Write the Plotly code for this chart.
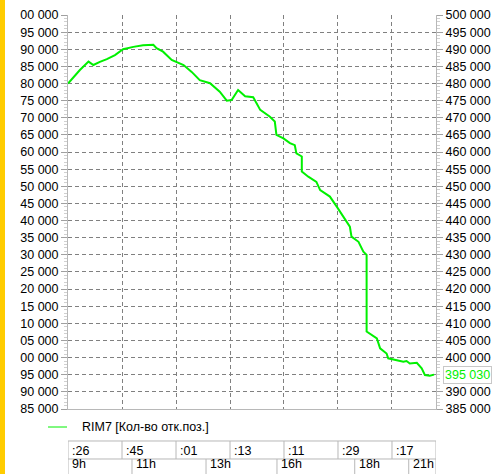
import plotly.graph_objects as go

# ---- data ----
x_slot = [0.00, 0.22, 0.38, 0.47, 0.59, 0.72, 0.87, 1.02, 1.21, 1.39, 1.58, 1.64, 1.76, 1.92,
          2.14, 2.29, 2.44, 2.63, 2.81, 2.94, 3.03, 3.15, 3.28, 3.43, 3.56, 3.74, 3.83, 3.86,
          3.99, 4.11, 4.20, 4.23, 4.33, 4.33, 4.45, 4.60, 4.67, 4.85, 4.98, 5.10, 5.22, 5.25,
          5.38, 5.47, 5.53, 5.53, 5.62, 5.72, 5.78, 5.90, 5.93, 6.09, 6.21, 6.27, 6.33, 6.46,
          6.55, 6.61, 6.70, 6.78]
values = [480000, 483950, 486400, 485400, 486300, 487100, 488300, 490000, 490700, 491200,
          491300, 490300, 489300, 486900, 485400, 483400, 481000, 480100, 477600, 475000,
          475200, 478100, 476300, 476000, 472300, 470300, 468900, 465000, 464000, 462600,
          462000, 459600, 458700, 454300, 452800, 451300, 448900, 447000, 444000, 441100,
          438200, 435300, 433800, 430900, 430000, 407600, 406600, 405600, 402700, 401200,
          399800, 399300, 398800, 399000, 398300, 398500, 396900, 394900, 394700, 395030]
series_name = "RIM7 [Кол-во отк.поз.]"
last_label = "395 030"

y_ticks = list(range(385000, 500001, 5000))
left_ticktext = [f"{v:,}".replace(",", " ")[-6:] for v in y_ticks]
right_ticks = [v for v in y_ticks if v != 395000]
right_ticktext = [f"{v:,}".replace(",", " ") for v in right_ticks]

row1_starts = [0, 1, 2, 3, 4, 5, 6]
row1_labels = [":26", ":45", ":01", ":13", ":11", ":29", ":17"]
row2_starts = [0, 1.185, 2.556, 3.87, 5.31, 6.31]
row2_labels = ["9h", "11h", "13h", "16h", "18h", "21h"]
x_end = 6.815

GREEN = "#00f000"
GRID = "#808080"
FRAME = "#b8b8b8"
FONT = "Liberation Sans"
FS = 12.5

fig = go.Figure()
fig.add_trace(go.Scatter(x=x_slot, y=values, mode="lines",
                         line=dict(color=GREEN, width=2), name=series_name,
                         showlegend=False, yaxis="y"))
fig.add_trace(go.Scatter(x=[x_slot[-1]], y=[values[-1]], mode="lines",
                         showlegend=False, yaxis="y2", hoverinfo="skip"))

shapes = []
# yellow bar on the left
shapes.append(dict(type="rect", xref="paper", yref="paper", x0=-0.1848, x1=-0.1712,
                   y0=-0.2, y1=1.1, fillcolor="#ffcc00", line=dict(width=0), layer="above"))
# legend line
shapes.append(dict(type="line", xref="paper", yref="paper", x0=-0.0543, x1=-0.0027,
                   y0=-0.0457, y1=-0.0457, line=dict(color=GREEN, width=1)))
# table lines
ytop, ymid, ybot = -0.0812, -0.1269, -0.20
for yv in (ytop, ymid):
    shapes.append(dict(type="line", xref="x", yref="paper", x0=0, x1=x_end, y0=yv, y1=yv,
                       line=dict(color=FRAME, width=1)))
for xs in row1_starts + [x_end]:
    shapes.append(dict(type="line", xref="x", yref="paper", x0=xs, x1=xs, y0=ytop, y1=ymid,
                       line=dict(color=FRAME, width=1)))
for xs in row2_starts + [x_end]:
    shapes.append(dict(type="line", xref="x", yref="paper", x0=xs, x1=xs, y0=ymid, y1=ybot,
                       line=dict(color=FRAME, width=1)))

annotations = []
annotations.append(dict(xref="paper", yref="paper", x=0.0326, y=-0.0457, xanchor="left",
                        yanchor="middle", text=series_name, showarrow=False,
                        font=dict(family=FONT, size=FS, color="#000")))
for xs, t in zip(row1_starts, row1_labels):
    annotations.append(dict(xref="x", yref="paper", x=xs, y=-0.1066, xanchor="left",
                            yanchor="middle", xshift=2, text=t, showarrow=False,
                            font=dict(family=FONT, size=FS, color="#000")))
for xs, t in zip(row2_starts, row2_labels):
    annotations.append(dict(xref="x", yref="paper", x=xs, y=-0.1624, xanchor="left",
                            yanchor="bottom", xshift=2, text=t, showarrow=False,
                            font=dict(family=FONT, size=FS, color="#000")))
annotations.append(dict(xref="paper", yref="y", x=1, y=values[-1], xanchor="left",
                        yanchor="middle", xshift=7, text=last_label, showarrow=False,
                        font=dict(family=FONT, size=FS, color=GREEN),
                        bordercolor="#c8c8c8", borderwidth=1, borderpad=1, bgcolor="white"))

yax_common = dict(range=[385000, 500000], showgrid=False, automargin=False,
                  ticks="outside", ticklen=6, tickcolor="#a0a0a0",
                  minor=dict(dtick=1000, ticks="outside", ticklen=3, tickcolor="#d0d0d0",
                             showgrid=False),
                  showline=True, linecolor=FRAME, linewidth=1, zeroline=False,
                  tickfont=dict(family=FONT, size=FS, color="#000"), fixedrange=True)

fig.update_layout(
    width=499, height=474,
    margin=dict(l=68, r=63, t=15, b=65),
    paper_bgcolor="white", plot_bgcolor="white",
    showlegend=False,
    xaxis=dict(range=[0, x_end], tickvals=[1, 2, 3, 4, 5, 6], showticklabels=False,
               showgrid=True, gridcolor=GRID, griddash="4px,3px", gridwidth=1,
               automargin=False, ticks="", showline=True, linecolor=FRAME,
               zeroline=False, mirror=False, fixedrange=True),
    yaxis=dict(**yax_common, tickvals=y_ticks, ticktext=left_ticktext, side="left"),
    yaxis2=dict(**yax_common, tickvals=right_ticks, ticktext=right_ticktext,
                side="right", overlaying="y"),
    shapes=shapes,
    annotations=annotations,
)
fig.layout.yaxis.showgrid = True
fig.layout.yaxis.gridcolor = GRID
fig.layout.yaxis.griddash = "4px,3px"
fig.layout.yaxis.gridwidth = 1

fig.write_html("out.html", config={"displayModeBar": False},
               post_script="document.body.style.margin='0';document.body.style.overflow='hidden';")
